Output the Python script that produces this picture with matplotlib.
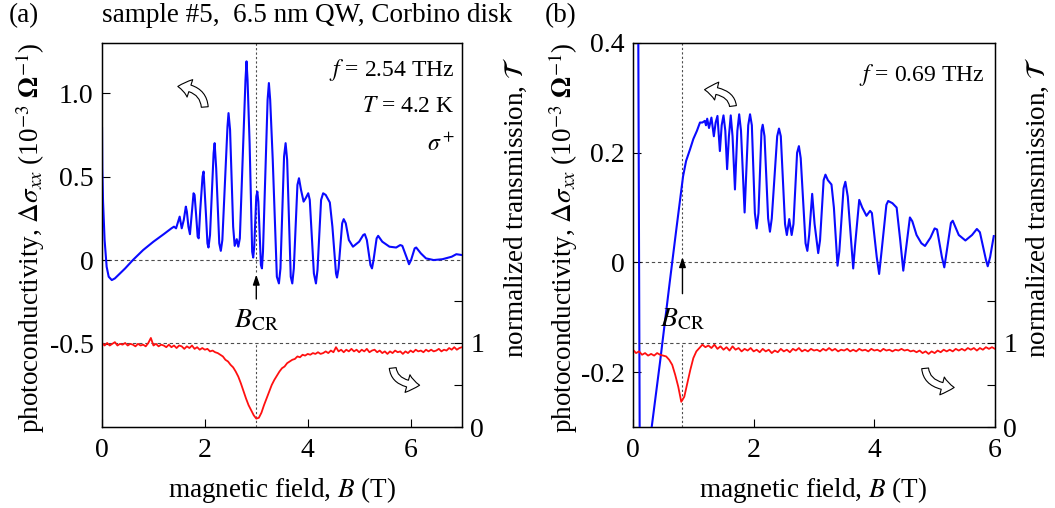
import numpy as np
import matplotlib.pyplot as plt
from matplotlib.patches import FancyArrowPatch

plt.rcParams['font.family'] = ['Liberation Serif', 'DejaVu Serif']
plt.rcParams['mathtext.fontset'] = 'stix'
plt.rcParams['axes.unicode_minus'] = False

# (a) f = 2.54 THz: photoconductivity (left axis) and transmission (right axis)
a_B_sig = [0.00, 0.005, 0.02, 0.05, 0.09, 0.13, 0.19, 0.25, 0.35, 0.45, 0.6, 0.8, 1.0, 1.2,
           1.35, 1.40, 1.44, 1.47, 1.51, 1.55, 1.59, 1.63, 1.65, 1.68, 1.71, 1.74, 1.78,
           1.80, 1.83, 1.86, 1.88, 1.91, 1.955, 1.975, 2.02, 2.05, 2.07, 2.10, 2.17, 2.19,
           2.22, 2.28, 2.31, 2.34, 2.44, 2.46, 2.49, 2.55, 2.58, 2.62, 2.65, 2.68, 2.79,
           2.81, 2.83, 2.87, 2.92, 2.94, 2.96, 3.00, 3.02, 3.04, 3.09, 3.11, 3.13, 3.22,
           3.245, 3.27, 3.32, 3.40, 3.44, 3.47, 3.54, 3.57, 3.60, 3.67, 3.70, 3.73, 3.80,
           3.83, 3.87, 3.92, 3.96, 4.01, 4.04, 4.12, 4.16, 4.19, 4.26, 4.30, 4.35, 4.43,
           4.48, 4.55, 4.57, 4.60, 4.67, 4.70, 4.74, 4.80, 4.88, 5.00, 5.08, 5.11, 5.15,
           5.22, 5.25, 5.28, 5.34, 5.37, 5.45, 5.59, 5.72, 5.80, 5.84, 5.93, 5.97, 6.01,
           6.08, 6.11, 6.20, 6.30, 6.45, 6.62, 6.80, 6.89, 7.0]
a_sig = [0.79, 0.55, 0.35, 0.12, -0.04, -0.10, -0.12, -0.11, -0.08, -0.05, 0.0, 0.06, 0.11,
         0.155, 0.19, 0.20, 0.19, 0.22, 0.26, 0.19, 0.24, 0.32, 0.29, 0.20, 0.155, 0.26,
         0.40, 0.39, 0.27, 0.14, 0.13, 0.30, 0.50, 0.53, 0.28, 0.10, 0.075, 0.15, 0.64,
         0.70, 0.55, 0.10, 0.055, 0.12, 0.80, 0.88, 0.78, 0.20, 0.085, 0.125, 0.08, 0.13,
         1.08, 1.19, 1.08, 0.70, 0.05, 0.015, 0.08, 0.38, 0.41, 0.35, -0.03, -0.05, 0.05,
         0.96, 1.06, 0.96, 0.60, -0.10, -0.14, -0.05, 0.62, 0.70, 0.60, -0.10, -0.14,
         -0.05, 0.45, 0.49, 0.42, 0.35, 0.37, 0.40, 0.36, -0.08, -0.14, -0.06, 0.36, 0.40,
         0.39, 0.345, 0.20, -0.08, -0.105, -0.05, 0.22, 0.245, 0.22, 0.12, 0.08, 0.11, 0.15,
         0.155, 0.12, -0.03, -0.05, 0.0, 0.13, 0.145, 0.11, 0.08, 0.075, 0.09, 0.085, 0.01,
         -0.025, 0.0, 0.07, 0.075, 0.04, 0.01, 0.0, 0.005, 0.02, 0.035, 0.03]

# transmission sampled every 0.05 T
a_B_tr = np.linspace(0, 7, 141)
a_tr = [1.00, 0.97, 1.00, 0.97, 0.99, 1.01, 0.97, 0.99, 0.98, 1.00,
        0.97, 0.99, 0.98, 0.96, 0.99, 0.97, 0.98, 0.96, 1.00, 1.06,
        0.97, 0.99, 0.96, 0.98, 0.97, 0.95, 0.98, 0.95, 0.97, 0.94,
        0.97, 0.96, 0.93, 0.96, 0.94, 0.97, 0.93, 0.95, 0.92, 0.94,
        0.92, 0.93, 0.90, 0.91, 0.89, 0.88, 0.86, 0.84, 0.80, 0.78,
        0.74, 0.71, 0.66, 0.60, 0.52, 0.43, 0.34, 0.26, 0.20, 0.14,
        0.10, 0.11, 0.17, 0.26, 0.34, 0.42, 0.50, 0.56, 0.61, 0.66,
        0.70, 0.72, 0.76, 0.78, 0.80, 0.81, 0.84, 0.83, 0.86, 0.85,
        0.87, 0.86, 0.88, 0.87, 0.89, 0.87, 0.88, 0.90, 0.88, 0.91,
        0.89, 0.95, 0.90, 0.92, 0.89, 0.92, 0.90, 0.93, 0.90, 0.92,
        0.89, 0.92, 0.90, 0.93, 0.89, 0.91, 0.92, 0.89, 0.91, 0.88,
        0.90, 0.87, 0.90, 0.88, 0.91, 0.89, 0.90, 0.87, 0.90, 0.88,
        0.91, 0.89, 0.92, 0.90, 0.91, 0.89, 0.92, 0.90, 0.92, 0.90,
        0.91, 0.93, 0.90, 0.92, 0.91, 0.94, 0.92, 0.95, 0.92, 0.94,
        0.95]

# (b) f = 0.69 THz
b_B_sig = [0.085, 0.115, 0.12, 0.25, 0.31, 0.45, 0.61, 0.72, 0.83, 0.88, 0.945, 1.00, 1.06,
           1.11, 1.15, 1.19, 1.21, 1.23, 1.26, 1.30, 1.34, 1.37, 1.40, 1.44, 1.47, 1.50,
           1.53, 1.56, 1.59, 1.62, 1.65, 1.69, 1.73, 1.76, 1.79, 1.85, 1.91, 1.94, 1.97,
           2.02, 2.05, 2.08, 2.13, 2.15, 2.18, 2.24, 2.27, 2.30, 2.39, 2.42, 2.45, 2.52,
           2.55, 2.59, 2.63, 2.66, 2.72, 2.75, 2.78, 2.86, 2.89, 2.92, 2.97, 3.01, 3.07,
           3.10, 3.16, 3.19, 3.23, 3.29, 3.33, 3.39, 3.42, 3.49, 3.52, 3.56, 3.65, 3.68,
           3.75, 3.80, 3.87, 3.93, 3.96, 4.04, 4.08, 4.12, 4.20, 4.23, 4.30, 4.37, 4.43,
           4.48, 4.52, 4.59, 4.63, 4.70, 4.78, 4.84, 4.93, 5.00, 5.04, 5.12, 5.16, 5.20,
           5.27, 5.30, 5.40, 5.51, 5.62, 5.70, 5.75, 5.85, 5.88, 5.92, 5.98]
b_sig = [0.50, -0.45, -0.50, -0.45, -0.30, -0.18, -0.035, 0.062, 0.157, 0.185, 0.206, 0.225,
         0.240, 0.255, 0.255, 0.258, 0.250, 0.262, 0.245, 0.264, 0.23, 0.255, 0.267, 0.203,
         0.25, 0.268, 0.24, 0.17, 0.23, 0.268, 0.23, 0.133, 0.24, 0.27, 0.24, 0.091, 0.25,
         0.27, 0.25, 0.09, 0.062, 0.09, 0.24, 0.251, 0.23, 0.08, 0.056, 0.08, 0.23, 0.244,
         0.23, 0.07, 0.05, 0.079, 0.05, 0.07, 0.20, 0.212, 0.19, 0.035, 0.021, 0.05, 0.125,
         0.07, 0.017, 0.04, 0.15, 0.16, 0.15, 0.142, 0.10, -0.006, 0.02, 0.135, 0.147, 0.12,
         -0.011, 0.03, 0.114, 0.10, 0.085, 0.094, 0.09, 0.01, -0.021, 0.02, 0.105, 0.112,
         0.108, 0.10, 0.04, -0.015, 0.02, 0.082, 0.075, 0.05, 0.035, 0.03, 0.045, 0.062,
         0.06, 0.01, -0.009, 0.02, 0.072, 0.076, 0.05, 0.04, 0.05, 0.061, 0.055, 0.005,
         -0.007, 0.01, 0.048]

b_B_tr = np.linspace(0, 6, 121)
b_tr = [0.92, 0.88, 0.90, 0.86, 0.88, 0.85, 0.87, 0.85, 0.88, 0.86,
        0.85, 0.84, 0.80, 0.74, 0.62, 0.48, 0.30, 0.36, 0.52, 0.68,
        0.82, 0.90, 0.94, 0.98, 0.95, 0.97, 0.94, 0.98, 0.93, 0.96,
        0.92, 0.95, 0.91, 0.96, 0.92, 0.94, 0.90, 0.93, 0.91, 0.94,
        0.90, 0.92, 0.89, 0.93, 0.90, 0.92, 0.88, 0.91, 0.89, 0.93,
        0.90, 0.92, 0.89, 0.93, 0.91, 0.94, 0.90, 0.92, 0.90, 0.93,
        0.91, 0.92, 0.90, 0.93, 0.91, 0.94, 0.91, 0.93, 0.90, 0.92,
        0.91, 0.93, 0.90, 0.92, 0.90, 0.93, 0.91, 0.92, 0.90, 0.93,
        0.91, 0.92, 0.90, 0.93, 0.91, 0.92, 0.90, 0.92, 0.91, 0.93,
        0.91, 0.92, 0.90, 0.91, 0.89, 0.91, 0.88, 0.90, 0.87, 0.90,
        0.88, 0.91, 0.89, 0.92, 0.90, 0.92, 0.90, 0.93, 0.91, 0.93,
        0.91, 0.94, 0.92, 0.94, 0.91, 0.94, 0.92, 0.95, 0.93, 0.95,
        0.93]

B_cr_a = 3.0
B_cr_b = 0.82

fig = plt.figure(figsize=(10.55, 5.08), dpi=100)


def curved_arrow(ax, tail, tip):
    # hollow arrow: leaves the tail vertically, arrives horizontally at the tip
    ax.add_patch(FancyArrowPatch(tail, tip, connectionstyle='angle3,angleA=90,angleB=0',
                                 arrowstyle='simple,head_length=0.8,head_width=1.2,tail_width=0.45',
                                 mutation_scale=11, fc='white', ec='black', lw=0.8, zorder=5))


def panel(rect, B, sig, Btr, tr, xmax, ylim, yticks, ylabels, Bcr, dash_top, arrow_tail,
          arrow_tip, label_y, texts, arrows):
    ax = fig.add_axes(rect)
    ax.set_xlim(0, xmax)
    ax.set_ylim(*ylim)
    ax.set_xticks([0, 2, 4, 6])
    ax.set_yticks(yticks)
    ax.set_yticklabels(ylabels)
    ax.tick_params(direction='in', length=6, width=0.8, top=False, right=False, pad=6,
                   labelsize=20)
    ax.tick_params(axis='x', pad=8)
    for s in ax.spines.values():
        s.set_linewidth(1.0)

    ax2 = ax.twinx()
    ax2.set_ylim(0, 4.57)
    ax2.set_yticks([0, 1])
    ax2.set_yticks([0.5, 1.5], minor=True)
    ax2.tick_params(which='both', direction='in', length=6, width=0.8, pad=6, labelsize=20)

    ax.axhline(0, color='0.3', lw=0.8, ls=(0, (3, 2.5)), zorder=1)
    ax2.axhline(1, color='0.3', lw=0.8, ls=(0, (3, 2.5)), zorder=1)
    ax.plot([Bcr, Bcr], [dash_top, ylim[1]], color='0.3', lw=0.8, ls=(0, (2, 2)))
    ax2.plot([Bcr, Bcr], [0, 1], color='0.3', lw=0.8, ls=(0, (2, 2)))

    ax.plot(B, sig, color='#0a0aff', lw=1.5, zorder=3, solid_joinstyle='round')
    ax2.plot(Btr, tr, color='#ff1010', lw=1.3, solid_joinstyle='round')

    ax.annotate('', xy=(Bcr, arrow_tip), xytext=(Bcr, arrow_tail),
                arrowprops=dict(arrowstyle='-|>,head_length=0.6,head_width=0.2',
                                color='black', lw=1.0))
    ax.text(Bcr, label_y, r'$B_{\mathrm{CR}}$', ha='center', va='center', fontsize=20)

    for x, y, s in texts:
        ax.text(x, y, s, transform=ax.transAxes, ha='right', va='center', fontsize=17)
    for tail, tip in arrows:
        curved_arrow(ax, tail, tip)
    return ax


panel([0.0967, 0.1594, 0.3412, 0.756], a_B_sig, a_sig, a_B_tr, a_tr, 7, (-1.0, 1.3),
      [-0.5, 0, 0.5, 1.0], ['-0.5', '0', '0.5', '1.0'], B_cr_a, -0.07, -0.25, -0.07, -0.36,
      [(0.98, 0.93, r'$f$ = 2.54 THz'), (0.98, 0.835, r'$T$ = 4.2 K'),
       (0.98, 0.736, r'$\sigma^+$')],
      [((2.0, 0.90), (1.42, 1.04)), ((5.65, -0.63), (6.23, -0.75))])

panel([0.6, 0.1594, 0.3431, 0.756], b_B_sig, b_sig, b_B_tr, b_tr, 6, (-0.3, 0.4),
      [-0.2, 0, 0.2, 0.4], ['-0.2', '0', '0.2', '0.4'], B_cr_b, 0.015, -0.062, 0.015, -0.105,
      [(0.972, 0.917, r'$f$ = 0.69 THz')],
      [((1.66, 0.28), (1.14, 0.315)), ((4.84, -0.188), (5.37, -0.228))])

ylab = r'photoconductivity, $\Delta\sigma_{xx}$ (10$^{-3}$ $\mathbf{\Omega}^{-1}$)'
tlab = r'normalized transmission, $\mathcal{T}$'
xlab = r'magnetic field, $B$ (T)'
lab = dict(fontsize=19.5, va='center', ha='center')
fig.text(30 / 1055, 1 - 238 / 508, ylab, rotation=90, **lab)
fig.text(563 / 1055, 1 - 238 / 508, ylab, rotation=90, **lab)
fig.text(515 / 1055, 1 - 207 / 508, tlab, rotation=90, **lab)
fig.text(1037 / 1055, 1 - 207 / 508, tlab, rotation=90, **lab)
fig.text(282 / 1055, 1 - 490 / 508, xlab, **lab)
fig.text(813 / 1055, 1 - 490 / 508, xlab, **lab)
fig.text(24 / 1055, 1 - 16 / 508, '(a)', **lab)
fig.text(561 / 1055, 1 - 16 / 508, '(b)', **lab)
fig.text(307 / 1055, 1 - 16 / 508, 'sample #5,  6.5 nm QW, Corbino disk', **lab)

fig.savefig('out.png', dpi=100)
